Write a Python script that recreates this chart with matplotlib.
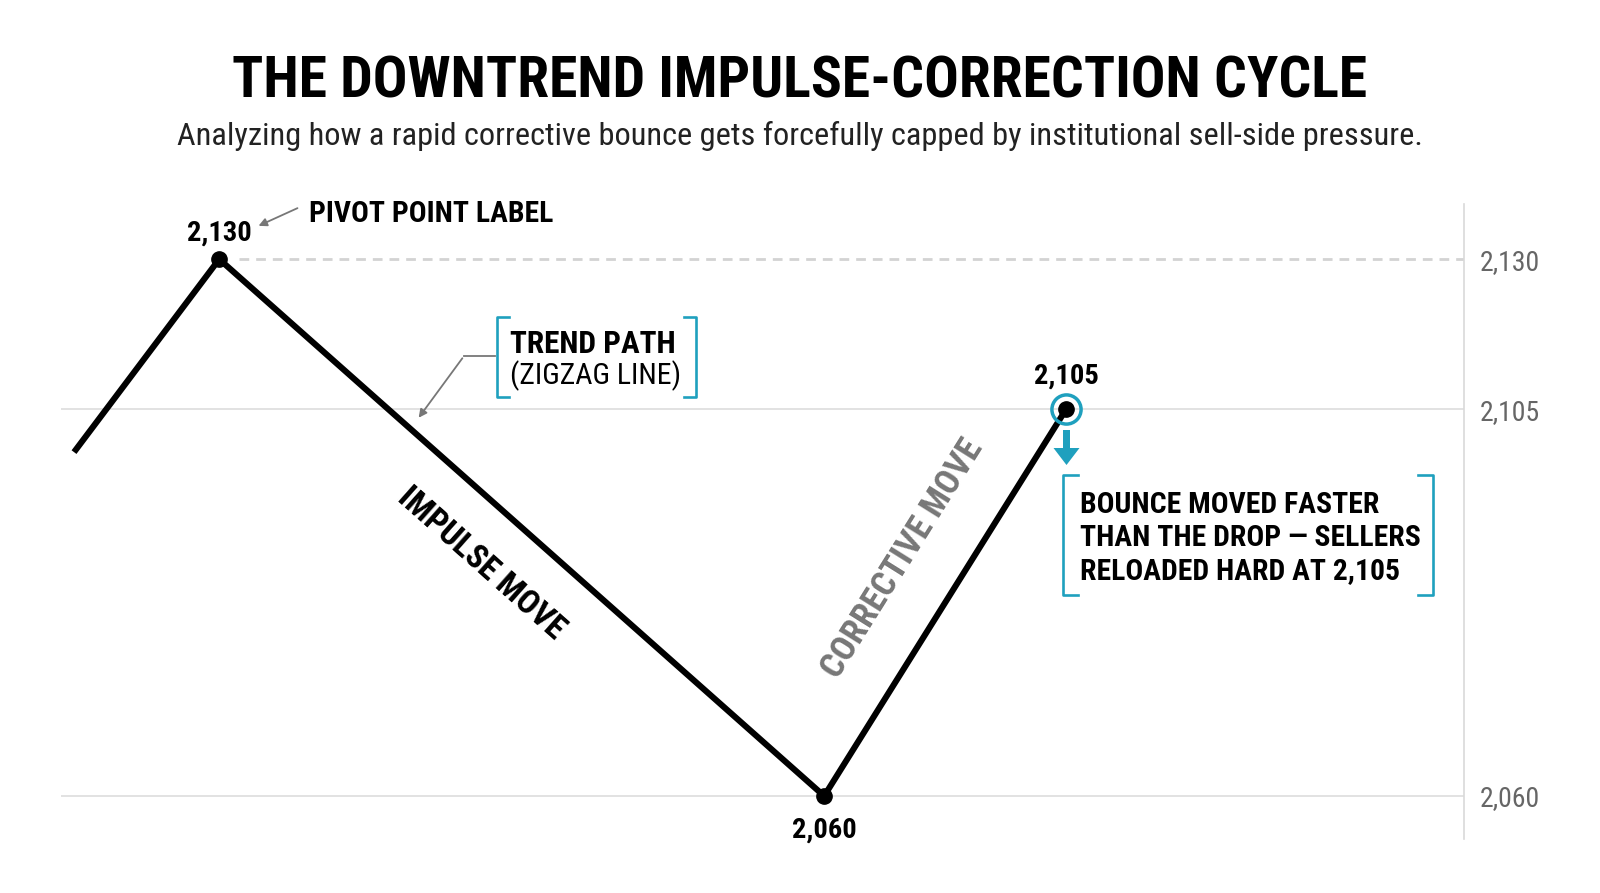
import numpy as np
import matplotlib
matplotlib.use("Agg")
import matplotlib.pyplot as plt
from matplotlib import font_manager
from matplotlib.ticker import FuncFormatter
from matplotlib.transforms import IdentityTransform

# zigzag path: time steps and prices
x_steps = [0, 3, 15.5, 20.5]
prices = [2100, 2130, 2060, 2105]
tick_vals = [2060, 2105, 2130]
point_labels = ["2,130", "2,060", "2,105"]

title = "THE DOWNTREND IMPULSE-CORRECTION CYCLE"
subtitle = ("Analyzing how a rapid corrective bounce gets forcefully capped "
            "by institutional sell-side pressure.")
callout = "BOUNCE MOVED FASTER\nTHAN THE DROP \u2014 SELLERS\nRELOADED HARD AT 2,105"

TEAL = "#1fa0be"
GRAY = "#777777"

names = {f.name for f in font_manager.fontManager.ttflist}
cond = next((n for n in ["Roboto Condensed", "Liberation Sans Narrow", "Roboto"] if n in names),
            "DejaVu Sans")
plt.rcParams["font.family"] = [cond, "DejaVu Sans"]

W, H = 1600, 893
fig = plt.figure(figsize=(16, 8.93), dpi=100)


def fp(px, py):
    return (px / W, 1 - py / H)


ax = fig.add_axes([61 / W, 1 - 839 / H, (1464 - 61) / W, (839 - 204) / H])

# price axis is stretched unevenly in the original
anchor_v = [1900, 2060, 2105, 2130, 2300]
anchor_p = [-1376, 0, 387, 537, 1557]


def fwd(v):
    return np.interp(v, anchor_v, anchor_p)


def inv(p):
    return np.interp(p, anchor_p, anchor_v)


ax.set_yscale("function", functions=(fwd, inv))
ax.set_ylim(2055, 2139.2)
ax.set_xlim(-0.269, 28.72)

for s in ["top", "left", "bottom"]:
    ax.spines[s].set_visible(False)
ax.spines["right"].set_color("#d9d9d9")
ax.spines["right"].set_linewidth(1.2)
ax.set_xticks([])
ax.yaxis.tick_right()
ax.set_yticks(tick_vals)
ax.yaxis.set_major_formatter(FuncFormatter(lambda v, p: f"{v:,.0f}"))
ax.yaxis.set_minor_locator(matplotlib.ticker.NullLocator())
ax.tick_params(axis="y", length=0, pad=11, labelsize=20, labelcolor="#666666")

for v in tick_vals[:2]:
    ax.axhline(v, color="#dddddd", lw=1.2, zorder=0)
ax.hlines(tick_vals[2], 3.4, 28.72, color="#d3d3d3", lw=2, linestyles=(0, (3.5, 2.5)), zorder=0)

ax.plot(x_steps, prices, color="black", lw=4.4, solid_capstyle="butt", zorder=3)
ax.plot(x_steps[1:], prices[1:], "o", color="black", ms=11, zorder=4)
ax.plot(x_steps[3], prices[3], "o", mfc="none", mec=TEAL, mew=2.5, ms=21, zorder=5)

offsets = [18.5, -24.5, 23.5]
for xs, p, lab, off in zip(x_steps[1:], prices[1:], point_labels, offsets):
    ax.annotate(lab, (xs, p), xytext=(0, off), textcoords="offset points",
                ha="center", va="center", fontsize=20.5, fontweight="bold")

# move labels along the legs
d = ax.transData.transform(list(zip(x_steps, prices)))
ang1 = np.degrees(np.arctan2(d[2][1] - d[1][1], d[2][0] - d[1][0]))
ang2 = np.degrees(np.arctan2(d[3][1] - d[2][1], d[3][0] - d[2][0]))
fig.text(*fp(481, 563), "IMPULSE MOVE", rotation=ang1, rotation_mode="anchor",
         ha="center", va="center", fontsize=24, fontweight="bold")
fig.text(*fp(903, 559), "CORRECTIVE MOVE", rotation=ang2, rotation_mode="anchor",
         ha="center", va="center", fontsize=25, fontweight="bold", color=GRAY)

# titles
fig.text(0.5, 1 - 82 / H, title, ha="center", va="center", fontsize=41.5, fontweight="bold")
fig.text(0.5, 1 - 136 / H, subtitle, ha="center", va="center", fontsize=23.3, color="#222222")

# pivot label
fig.text(*fp(309, 214), "PIVOT POINT LABEL", ha="left", va="center", fontsize=21.3,
         fontweight="bold")
fig.add_artist(matplotlib.patches.FancyArrowPatch(
    fp(300, 207), fp(256, 227), transform=fig.transFigure,
    arrowstyle="-|>", mutation_scale=12, color=GRAY, lw=1.3))


def bracket(x0, x1, y0, y1, arm):
    for x, sgn in [(x0, 1), (x1, -1)]:
        xs = [x + sgn * arm, x, x, x + sgn * arm]
        ys = [y0, y0, y1, y1]
        fig.add_artist(matplotlib.lines.Line2D(
            [a / W for a in xs], [1 - b / H for b in ys],
            transform=fig.transFigure, color=TEAL, lw=1.9))


# trend path box
bracket(497, 696, 317, 397, 12)
fig.text(*fp(510, 344), "TREND PATH", ha="left", va="center", fontsize=22.5, fontweight="bold")
fig.text(*fp(510, 376), "(ZIGZAG LINE)", ha="left", va="center", fontsize=21.5)
fig.add_artist(matplotlib.lines.Line2D([495 / W, 464 / W], [1 - 356 / H, 1 - 356 / H],
                                       transform=fig.transFigure, color=GRAY, lw=1.3))
fig.add_artist(matplotlib.patches.FancyArrowPatch(
    fp(464, 356), fp(417, 420), transform=fig.transFigure,
    arrowstyle="-|>", mutation_scale=12, color=GRAY, lw=1.3))

# callout
fig.add_artist(matplotlib.patches.FancyArrow(
    1066.5, H - 430, 0, -35, width=7, head_width=26, head_length=17,
    length_includes_head=True, color=TEAL, lw=0, transform=IdentityTransform()))
bracket(1063, 1433, 475, 595, 15)
fig.text(*fp(1080, 538), callout, ha="left", va="center", fontsize=21.3,
         fontweight="bold", linespacing=1.22)

fig.savefig("out.png", dpi=100, facecolor="white")
